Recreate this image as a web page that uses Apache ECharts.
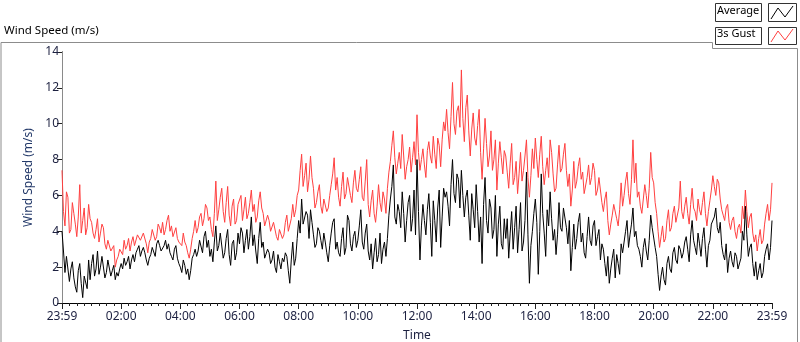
<!DOCTYPE html>
<html>
<head>
<meta charset="utf-8">
<script src="https://cdn.jsdelivr.net/npm/echarts@6/dist/echarts.min.js"></script>
<style>
  html, body { margin: 0; padding: 0; background: #fff; }
  #chart { width: 800px; height: 342px; }
</style>
</head>
<body>
<div id="chart"></div>
<script>
// one sample every 3 minutes, 23:59 -> 23:59 (one row = one hour)
const stepMinutes = 3
const xLabels = ['23:59', '02:00', '04:00', '06:00', '08:00', '10:00', '12:00',
                 '14:00', '16:00', '18:00', '20:00', '22:00', '23:59']
const yTicks = [0, 2, 4, 6, 8, 10, 12, 14]

// 3s gust (red)
const gust = [
  7.4, 5.1, 4.3, 6.2, 5.9, 3.9, 4.1, 5.6, 5.0, 4.4, 3.7, 4.8, 6.6, 3.9, 4.6, 5.3, 3.8, 4.2, 5.5, 4.7,
  4.5, 3.9, 3.6, 4.1, 4.7, 3.4, 3.9, 4.4, 4.2, 3.3, 3.0, 3.5, 3.6, 2.9, 2.8, 3.2, 2.0, 2.4, 2.6, 3.0,
  3.1, 2.7, 3.5, 3.0, 3.2, 3.6, 2.9, 3.4, 3.7, 3.2, 3.3, 3.8, 3.9, 3.5, 3.6, 3.9, 3.8, 3.3, 2.8, 3.4,
  3.6, 4.1, 4.0, 3.5, 3.7, 4.4, 4.2, 3.9, 4.5, 3.8, 4.1, 4.6, 4.9, 4.0, 4.3, 3.7, 3.8, 4.2, 3.6, 3.4,
  3.5, 3.2, 3.9, 3.4, 3.2, 2.8, 2.5, 3.0, 3.6, 4.0, 4.6, 3.9, 4.2, 4.8, 5.0, 4.3, 4.7, 5.5, 5.3, 4.6,
  4.8, 4.1, 3.7, 5.0, 6.8, 4.6, 5.2, 5.9, 6.4, 5.1, 4.5, 5.6, 6.5, 4.9, 4.3, 5.4, 5.8, 4.4, 4.6, 5.5,
  5.4, 6.0, 4.6, 5.2, 5.9, 4.7, 5.0, 5.6, 6.3, 5.1, 5.5, 4.5, 4.8, 5.7, 6.2, 5.3, 5.0, 4.3, 4.4, 4.9,
  4.6, 4.0, 3.9, 4.5, 4.4, 3.7, 3.5, 4.1, 4.2, 3.6, 3.8, 4.5, 4.9, 4.0, 4.1, 4.7, 5.5, 4.8, 5.2, 6.0,
  6.3, 7.4, 8.3, 6.5, 7.1, 7.8, 6.2, 6.9, 8.2, 7.0, 6.4, 5.3, 5.6, 6.2, 6.6, 5.4, 5.0, 5.8, 5.9, 5.1,
  5.3, 6.0, 6.6, 7.2, 8.1, 6.3, 7.0, 5.9, 5.4, 6.5, 7.3, 5.8, 6.1, 7.0, 6.9, 6.0, 5.6, 6.7, 7.4, 6.4,
  6.2, 6.9, 7.6, 5.9, 5.7, 6.8, 8.0, 5.5, 4.8, 5.7, 6.3, 5.0, 4.5, 5.4, 6.6, 5.6, 5.1, 6.2, 5.8, 5.0,
  6.4, 7.3, 7.9, 8.8, 9.6, 8.1, 7.2, 7.8, 8.4, 7.5, 9.4, 8.2, 6.9, 7.6, 8.0, 8.7, 7.3, 8.1, 9.0, 7.7,
  10.5, 8.4, 7.4, 8.0, 8.6, 7.7, 7.0, 8.5, 9.0, 8.2, 7.8, 9.3, 8.3, 7.5, 9.2, 8.8, 7.6, 9.1, 10.1, 9.6,
  10.8, 9.5, 8.6, 10.4, 12.3, 10.0, 9.4, 10.7, 11.0, 9.8, 13.0, 10.3, 9.0, 10.9, 11.6, 9.6, 8.2, 9.7, 10.6, 9.2,
  8.8, 9.9, 10.8, 8.4, 6.9, 8.6, 10.3, 8.9, 7.6, 8.2, 9.6, 7.4, 8.0, 9.1, 6.3, 7.8, 9.0, 8.1, 7.2, 8.5,
  8.2, 7.3, 6.4, 7.8, 8.9, 6.6, 7.0, 7.9, 6.1, 7.2, 8.4, 6.8, 7.4, 8.2, 9.1, 7.0, 5.9, 7.1, 8.6, 7.5,
  9.2, 8.0, 7.0, 8.3, 9.3, 7.6, 6.6, 7.4, 8.1, 7.0, 9.1, 8.4, 7.2, 6.2, 6.4, 7.7, 8.8, 7.3, 7.5, 8.3,
  8.9, 7.4, 6.5, 7.2, 5.4, 6.3, 7.9, 6.4, 6.8, 7.6, 8.1, 6.9, 7.3, 6.1, 6.0, 7.0, 7.7, 6.6, 7.0, 7.8,
  7.4, 6.0, 6.3, 7.0, 6.9, 5.6, 5.1, 5.8, 6.2, 4.6, 3.8, 4.4, 4.9, 5.5, 5.6, 4.7, 4.3, 5.2, 6.7, 5.4,
  6.0, 6.8, 7.3, 6.1, 5.5, 6.9, 9.1, 6.7, 7.8, 5.9, 6.2, 5.4, 5.0, 5.8, 6.6, 6.0, 5.3, 6.4, 8.4, 7.0,
  6.7, 5.6, 5.0, 4.0, 3.1, 3.7, 4.3, 3.4, 3.6, 4.6, 5.2, 4.0, 4.2, 5.0, 5.4, 4.5, 4.6, 5.3, 6.8, 5.1,
  4.7, 5.4, 5.9, 5.0, 4.4, 5.5, 6.4, 5.3, 5.1, 4.6, 5.8, 5.2, 4.9, 5.6, 6.2, 5.0, 4.3, 5.1, 5.7, 6.3,
  7.1, 6.5, 6.0, 6.9, 6.7, 5.8, 5.2, 4.9, 4.6, 5.3, 5.5, 4.5, 4.1, 4.6, 4.8, 4.0, 3.6, 4.2, 4.4, 3.9,
  5.4, 4.7, 6.3, 5.1, 4.2, 4.8, 5.0, 3.9, 3.4, 3.8, 2.9, 3.6, 4.1, 3.3, 3.5, 4.4, 5.0, 5.5, 4.6, 5.2,
  6.7
]

// average (black)
const average = [
  4.0, 2.9, 1.7, 2.6, 2.5, 1.2, 1.9, 2.3, 1.4, 0.9, 0.6, 1.8, 2.2, 1.1, 0.3, 1.5, 1.6, 0.8, 2.4, 1.3,
  2.2, 2.7, 1.5, 1.9, 2.9, 1.6, 2.0, 2.6, 2.5, 1.4, 1.7, 2.4, 2.3, 1.5, 1.8, 2.1, 1.3, 1.7, 1.5, 1.9,
  2.2, 1.9, 2.5, 2.1, 2.3, 2.6, 1.9, 2.4, 2.7, 2.3, 2.8, 3.0, 3.2, 2.6, 2.9, 3.1, 2.8, 2.4, 2.1, 2.5,
  2.7, 3.1, 3.0, 2.6, 3.3, 3.5, 3.2, 2.9, 2.8, 3.2, 3.5, 3.0, 3.3, 2.8, 2.6, 2.4, 3.0, 3.2, 2.5, 2.2,
  2.0, 1.7, 2.4, 2.1, 1.6, 1.9, 1.3, 1.8, 2.5, 2.7, 3.0, 2.6, 2.9, 3.5, 3.4, 2.8, 3.7, 4.0, 3.1, 3.5,
  2.6, 3.0, 2.3, 3.4, 4.3, 2.9, 3.2, 3.9, 3.8, 2.5, 2.8, 3.6, 4.1, 2.7, 2.1, 3.3, 3.5, 2.4, 2.8, 3.9,
  3.3, 4.2, 3.9, 2.8, 3.5, 4.1, 3.0, 3.7, 4.8, 3.2, 3.8, 2.9, 2.2, 3.6, 4.5, 3.1, 3.4, 2.5, 2.6, 3.0,
  2.8, 2.2, 2.4, 2.9, 2.0, 1.7, 2.7, 2.3, 1.9, 2.5, 2.3, 2.8, 2.6, 1.8, 1.1, 2.4, 3.4, 2.1, 2.5, 3.6,
  4.6, 3.9, 5.8, 4.4, 4.3, 5.1, 4.9, 3.6, 5.2, 4.5, 3.8, 3.1, 3.3, 4.2, 4.0, 3.5, 3.0, 3.9, 3.4, 2.8,
  2.3, 3.2, 3.9, 4.5, 4.7, 3.0, 3.4, 2.8, 2.6, 3.6, 4.2, 2.7, 3.1, 4.9, 4.6, 3.3, 2.9, 3.7, 4.0, 3.1,
  3.5, 4.3, 5.2, 3.4, 3.0, 3.9, 4.4, 2.9, 2.4, 3.3, 1.9, 2.8, 3.6, 2.3, 2.7, 3.9, 2.2, 3.0, 3.4, 2.6,
  3.6, 4.9, 5.8, 6.5, 7.7, 4.8, 4.4, 5.5, 5.1, 4.2, 6.2, 5.0, 3.4, 4.6, 5.6, 6.0, 4.0, 4.7, 6.3, 3.8,
  8.0, 5.1, 2.4, 4.3, 5.5, 4.6, 3.8, 5.2, 6.1, 4.5, 2.6, 5.7, 4.6, 3.4, 5.3, 6.3, 3.1, 4.8, 6.4, 5.9,
  6.2, 5.4, 4.3, 6.6, 8.0, 6.1, 5.6, 7.2, 6.9, 5.3, 7.4, 6.0, 4.8, 5.9, 6.3, 4.9, 3.5, 6.1, 5.2, 4.2,
  6.6, 5.1, 3.4, 4.8, 2.2, 5.5, 7.0, 4.6, 3.9, 5.8, 5.3, 3.6, 4.1, 6.0, 2.6, 4.4, 5.4, 3.3, 3.0, 4.7,
  3.6, 4.7, 2.5, 3.9, 5.1, 3.0, 4.2, 5.4, 2.8, 4.1, 5.6, 2.9, 3.4, 4.6, 7.3, 3.8, 1.1, 3.2, 4.0, 5.0,
  5.8, 4.5, 1.6, 4.0, 7.2, 5.0, 3.9, 2.6, 5.2, 4.3, 6.2, 4.7, 3.5, 4.1, 2.7, 3.8, 5.6, 4.2, 4.0, 5.3,
  5.2, 4.2, 3.3, 4.6, 1.8, 3.1, 4.4, 3.0, 3.6, 4.5, 5.0, 3.4, 3.9, 2.8, 2.5, 3.7, 4.8, 3.5, 3.2, 4.3,
  4.6, 3.2, 3.7, 4.1, 2.4, 3.3, 3.0, 2.2, 1.5, 2.6, 1.1, 1.9, 2.5, 3.0, 1.4, 2.7, 2.2, 1.6, 3.3, 2.8,
  3.4, 4.0, 4.6, 3.1, 3.8, 4.4, 5.3, 3.7, 4.0, 3.2, 3.0, 2.6, 2.0, 3.1, 3.6, 2.9, 2.4, 3.5, 4.9, 4.2,
  4.3, 3.1, 2.6, 1.6, 0.7, 1.5, 2.0, 1.3, 1.0, 2.2, 2.6, 1.9, 1.7, 2.8, 3.1, 2.4, 2.2, 3.2, 3.0, 2.5,
  2.8, 3.4, 3.7, 3.0, 2.3, 3.8, 4.6, 3.5, 3.1, 2.7, 3.9, 3.3, 2.6, 3.6, 4.2, 3.0, 2.0, 3.2, 3.5, 4.4,
  4.4, 4.8, 5.3, 4.2, 3.9, 4.5, 3.2, 2.7, 2.4, 3.3, 1.7, 2.5, 2.9, 2.3, 2.0, 2.8, 2.6, 1.9, 1.8, 2.5,
  4.0, 3.5, 5.4, 3.8, 2.6, 3.1, 3.3, 2.2, 1.5, 2.3, 1.3, 1.8, 2.2, 1.4, 1.7, 2.6, 3.0, 3.3, 2.4, 3.1,
  4.6
]

const font = 'Noto Sans'
const labelColor = '#1c2040'
const pairs = (arr) => arr.map((v, i) => [i * stepMinutes, v])

var myChart = echarts.init(document.getElementById('chart'))
myChart.setOption({
    animation: false,
    backgroundColor: '#fff',
    textStyle: { fontFamily: font, fontSize: 12, color: labelColor },
    grid: { left: 62, right: 28, top: 52, bottom: 39, containLabel: false, outerBoundsMode: 'none' },
    xAxis: [
        {
            type: 'value',
            min: 0,
            max: 1440,
            interval: 120,
            name: 'Time',
            nameLocation: 'middle',
            nameGap: 27,
            nameTextStyle: { color: labelColor, fontSize: 12, fontFamily: font },
            axisLine: { lineStyle: { color: '#8a8a8a' } },
            axisTick: { length: 6, lineStyle: { color: '#222' } },
            minorTick: { show: true, splitNumber: 8, length: 3, lineStyle: { color: '#222' } },
            splitLine: { show: false },
            axisLabel: {
                color: labelColor,
                margin: 8,
                formatter(val) { return xLabels[Math.round(val / 120)] }
            }
        },
        {
            type: 'value',
            position: 'top',
            min: 0,
            max: 1440,
            axisLine: { lineStyle: { color: '#000' } },
            axisTick: { show: false },
            axisLabel: { show: false },
            splitLine: { show: false }
        }
    ],
    yAxis: [
        {
            type: 'value',
            min: yTicks[0],
            max: yTicks[yTicks.length - 1],
            interval: 2,
            name: 'Wind Speed (m/s)',
            nameLocation: 'middle',
            nameGap: 26,
            nameTextStyle: { color: '#243a6a', fontSize: 12, fontFamily: font },
            axisLine: { show: true, lineStyle: { color: '#000' } },
            axisTick: { show: true, length: 5, lineStyle: { color: '#222' } },
            splitLine: { show: false },
            axisLabel: { color: labelColor, margin: 3 }
        },
        {
            type: 'value',
            position: 'right',
            min: 0,
            max: 14,
            axisLine: { show: true, lineStyle: { color: '#8a8a8a' } },
            axisTick: { show: false },
            axisLabel: { show: false },
            splitLine: { show: false }
        }
    ],
    series: [
        {
            name: '3s Gust',
            type: 'line',
            data: pairs(gust),
            showSymbol: false,
            lineStyle: { color: '#ff4040', width: 1 },
            z: 2
        },
        {
            name: 'Average',
            type: 'line',
            data: pairs(average),
            showSymbol: false,
            lineStyle: { color: '#000', width: 1 },
            z: 3
        }
    ],
    graphic: [
        // panel border
        {
            type: 'polyline',
            shape: { points: [[1, 342], [1, 42.5], [712.5, 42.5], [712.5, 48.5], [797.5, 48.5], [797.5, 342]] },
            style: { stroke: '#8c8c8c', fill: null, lineWidth: 1 }
        },
        {
            type: 'text', left: 4, top: 25,
            style: { text: 'Wind Speed (m/s)', font: '11.5px "Noto Sans"', fill: '#000' }
        },
        // legend: Average
        {
            type: 'rect', shape: { x: 715.5, y: 3.5, width: 46, height: 18 },
            style: { fill: '#fff', stroke: '#333', lineWidth: 1 }
        },
        {
            type: 'text', left: 717, top: 5,
            style: { text: 'Average', font: '11px "Noto Sans"', fill: '#000' }
        },
        {
            type: 'rect', shape: { x: 768.5, y: 3.5, width: 28, height: 18 },
            style: { fill: '#fff', stroke: '#333', lineWidth: 1 }
        },
        {
            type: 'polyline',
            shape: { points: [[771, 19], [778, 8], [785, 17], [793, 6]] },
            style: { stroke: '#000', fill: null, lineWidth: 1 }
        },
        // legend: 3s Gust
        {
            type: 'rect', shape: { x: 715.5, y: 27.5, width: 46, height: 17 },
            style: { fill: '#fff', stroke: '#333', lineWidth: 1 }
        },
        {
            type: 'text', left: 717, top: 28,
            style: { text: '3s Gust', font: '11px "Noto Sans"', fill: '#000' }
        },
        {
            type: 'rect', shape: { x: 768.5, y: 27.5, width: 28, height: 17 },
            style: { fill: '#fff', stroke: '#333', lineWidth: 1 }
        },
        {
            type: 'polyline',
            shape: { points: [[771, 42], [778, 31], [785, 40], [793, 29]] },
            style: { stroke: '#ff4040', fill: null, lineWidth: 1 }
        }
    ]
})
</script>
</body>
</html>
